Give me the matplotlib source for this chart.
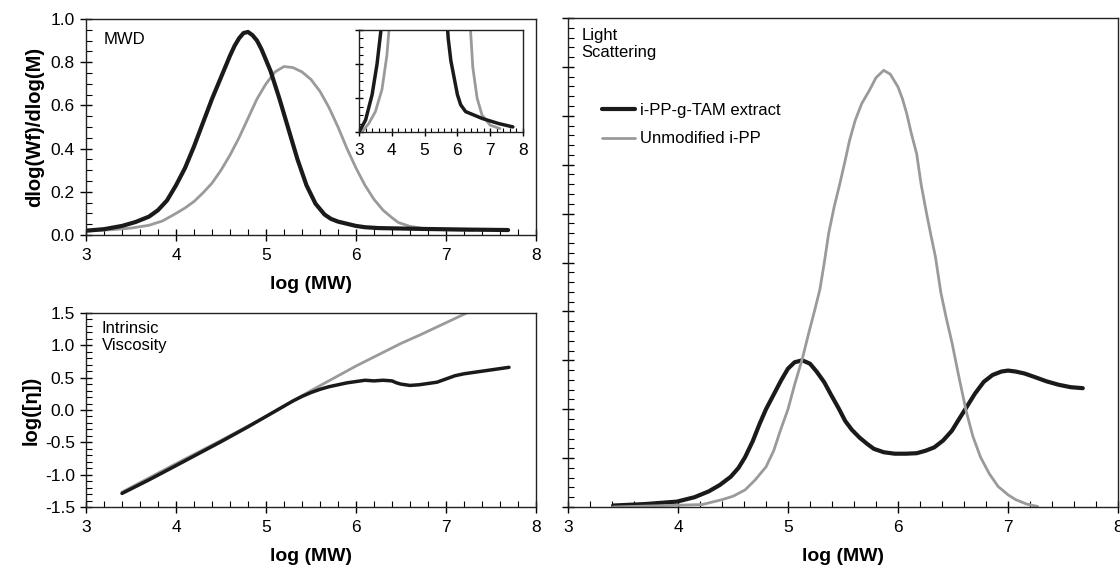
import numpy as np
import matplotlib.pyplot as plt
from matplotlib.ticker import MultipleLocator

plt.rcParams['font.family'] = ['Liberation Sans', 'DejaVu Sans']

BLACK = "#1a1a1a"
GRAY = "#9a9a9a"

# MWD, dlog(Wf)/dlog(M) vs log(MW)
mwd_tam_x = [3.0, 3.2, 3.4, 3.55, 3.7, 3.8, 3.9, 4.0, 4.1, 4.2, 4.3, 4.4, 4.5, 4.6,
             4.65, 4.7, 4.75, 4.8, 4.85, 4.9, 4.95, 5.05, 5.15, 5.25, 5.35, 5.45,
             5.55, 5.65, 5.72, 5.8, 5.9, 6.0, 6.1, 6.25, 6.5, 6.75, 7.25, 7.69]
mwd_tam_y = [0.020, 0.027, 0.042, 0.06, 0.085, 0.115, 0.16, 0.23, 0.31, 0.41, 0.52,
             0.63, 0.73, 0.83, 0.875, 0.91, 0.935, 0.94, 0.925, 0.90, 0.86, 0.76,
             0.63, 0.49, 0.35, 0.23, 0.145, 0.095, 0.075, 0.062, 0.052, 0.042, 0.036,
             0.032, 0.030, 0.028, 0.025, 0.023]
mwd_pp_x = [3.0, 3.3, 3.5, 3.7, 3.85, 4.0, 4.1, 4.2, 4.3, 4.4, 4.5, 4.6, 4.7, 4.8,
            4.9, 5.0, 5.1, 5.2, 5.3, 5.4, 5.5, 5.6, 5.7, 5.8, 5.9, 6.0, 6.1, 6.2,
            6.3, 6.4, 6.47, 6.6, 6.75, 7.0, 7.3]
mwd_pp_y = [0.018, 0.025, 0.032, 0.045, 0.065, 0.10, 0.125, 0.155, 0.195, 0.24,
            0.30, 0.37, 0.45, 0.54, 0.63, 0.70, 0.755, 0.78, 0.775, 0.755, 0.72,
            0.665, 0.59, 0.50, 0.40, 0.31, 0.23, 0.165, 0.115, 0.08, 0.058, 0.04,
            0.03, 0.024, 0.022]

# intrinsic viscosity, log([eta]) vs log(MW)
iv_tam_x = [3.4, 3.7, 4.0, 4.5, 4.8, 5.0, 5.2, 5.3, 5.4, 5.5, 5.6, 5.7, 5.8, 5.9,
            6.0, 6.1, 6.2, 6.3, 6.4, 6.45, 6.5, 6.6, 6.7, 6.8, 6.9, 7.0, 7.1, 7.2,
            7.3, 7.45, 7.6, 7.7]
iv_tam_y = [-1.29, -1.08, -0.86, -0.49, -0.26, -0.10, 0.06, 0.14, 0.21, 0.27, 0.32,
            0.36, 0.39, 0.42, 0.44, 0.46, 0.45, 0.46, 0.45, 0.42, 0.40, 0.38, 0.39,
            0.41, 0.43, 0.48, 0.53, 0.56, 0.58, 0.61, 0.64, 0.66]
iv_pp_x = [3.4, 4.0, 4.5, 5.0, 5.5, 6.0, 6.5, 6.71, 7.23]
iv_pp_y = [-1.27, -0.83, -0.47, -0.10, 0.30, 0.68, 1.03, 1.16, 1.50]

# light scattering signal (arbitrary units)
ls_tam_x = [3.41, 3.7, 3.99, 4.15, 4.28, 4.38, 4.48, 4.55, 4.61, 4.68, 4.74, 4.8,
            4.87, 4.94, 5.0, 5.06, 5.13, 5.2, 5.26, 5.33, 5.39, 5.46, 5.52, 5.58,
            5.65, 5.72, 5.78, 5.87, 5.97, 6.07, 6.17, 6.25, 6.33, 6.41, 6.49, 6.55,
            6.62, 6.7, 6.78, 6.86, 6.94, 7.0, 7.07, 7.15, 7.24, 7.35, 7.46, 7.57, 7.68]
ls_tam_y = [0.03, 0.06, 0.11, 0.2, 0.32, 0.45, 0.62, 0.8, 1.02, 1.35, 1.69, 2.0,
            2.3, 2.6, 2.83, 2.96, 3.0, 2.93, 2.77, 2.55, 2.3, 2.02, 1.76, 1.58,
            1.42, 1.29, 1.19, 1.12, 1.09, 1.09, 1.1, 1.15, 1.22, 1.36, 1.56, 1.78,
            2.03, 2.32, 2.56, 2.7, 2.77, 2.79, 2.77, 2.73, 2.66, 2.57, 2.5, 2.45, 2.43]
ls_pp_x = [3.41, 4.22, 4.4, 4.5, 4.61, 4.7, 4.8, 4.87, 4.93, 5.0, 5.06, 5.13, 5.19,
           5.24, 5.29, 5.33, 5.37, 5.42, 5.47, 5.52, 5.56, 5.61, 5.67, 5.74, 5.8,
           5.87, 5.93, 6.0, 6.04, 6.08, 6.12, 6.17, 6.21, 6.26, 6.3, 6.34, 6.39,
           6.44, 6.49, 6.55, 6.62, 6.68, 6.75, 6.83, 6.91, 7.0, 7.07, 7.17, 7.27]
ls_pp_y = [0.0, 0.05, 0.15, 0.22, 0.35, 0.55, 0.82, 1.15, 1.56, 2.0, 2.5, 3.03,
           3.57, 4.0, 4.45, 5.0, 5.6, 6.14, 6.6, 7.09, 7.5, 7.9, 8.25, 8.52, 8.78,
           8.93, 8.85, 8.59, 8.35, 8.04, 7.65, 7.22, 6.6, 6.0, 5.55, 5.12, 4.38,
           3.85, 3.37, 2.7, 1.96, 1.45, 1.02, 0.68, 0.42, 0.25, 0.15, 0.06, 0.01]


def style_axis(ax, xminor, ymajor, yminor, labelsize=12.5):
    ax.xaxis.set_major_locator(MultipleLocator(1))
    ax.xaxis.set_minor_locator(MultipleLocator(xminor))
    ax.yaxis.set_major_locator(MultipleLocator(ymajor))
    ax.yaxis.set_minor_locator(MultipleLocator(yminor))
    ax.tick_params(which="major", direction="inout", length=9, width=1,
                   labelsize=labelsize, top=False, right=False)
    ax.tick_params(axis="x", which="major", pad=5)
    ax.tick_params(which="minor", direction="in", length=4.5, width=0.8,
                   top=False, right=False)
    for sp in ax.spines.values():
        sp.set_linewidth(1)
        sp.set_color("#222222")


def curve(ax, x, y, color, lw, label=None):
    ax.plot(x, y, color=color, lw=lw, label=label,
            solid_joinstyle="round", solid_capstyle="round")


fig = plt.figure(figsize=(11.2, 5.7), dpi=100)
W, H = 1120, 570

# MWD panel
ax1 = fig.add_axes([86 / W, 1 - 235 / H, 450 / W, 216 / H])
curve(ax1, mwd_pp_x, mwd_pp_y, GRAY, 2)
curve(ax1, mwd_tam_x, mwd_tam_y, BLACK, 3)
ax1.set_xlim(3, 8)
ax1.set_ylim(0, 1.0)
style_axis(ax1, 0.2, 0.2, 0.05)
ax1.yaxis.set_major_formatter(plt.FormatStrFormatter("%.1f"))
ax1.set_xlabel("log (MW)", fontsize=14, fontweight="bold", labelpad=9)
ax1.set_ylabel("dlog(Wf)/dlog(M)", fontsize=14.5, fontweight="bold", labelpad=5)
ax1.text(0.04, 0.94, "MWD", transform=ax1.transAxes, fontsize=12, va="top")

# inset, tails of the MWD
axi = fig.add_axes([359 / W, 1 - 132 / H, 164 / W, 102 / H])
curve(axi, mwd_pp_x, mwd_pp_y, GRAY, 2)
curve(axi, mwd_tam_x, mwd_tam_y, BLACK, 2.5)
axi.set_xlim(3, 8)
axi.set_ylim(0.02, 0.08)
style_axis(axi, 0.2, 0.02, 0.005)
axi.tick_params(which="major", length=6)
axi.tick_params(which="minor", length=3)
axi.tick_params(axis="y", labelleft=False)

# intrinsic viscosity panel
ax2 = fig.add_axes([86 / W, 1 - 507 / H, 450 / W, 194 / H])
curve(ax2, iv_pp_x, iv_pp_y, GRAY, 2)
curve(ax2, iv_tam_x, iv_tam_y, BLACK, 2.5)
ax2.set_xlim(3, 8)
ax2.set_ylim(-1.5, 1.5)
style_axis(ax2, 0.2, 0.5, 0.1)
ax2.yaxis.set_major_formatter(plt.FormatStrFormatter("%.1f"))
ax2.set_xlabel("log (MW)", fontsize=14, fontweight="bold", labelpad=9)
ax2.set_ylabel("log([\u03b7])", fontsize=14.5, fontweight="bold", labelpad=3)
ax2.text(0.035, 0.96, "Intrinsic\nViscosity", transform=ax2.transAxes,
         fontsize=12, va="top", linespacing=1.2)

# light scattering panel
ax3 = fig.add_axes([568 / W, 1 - 507 / H, 550 / W, 489 / H])
curve(ax3, ls_tam_x, ls_tam_y, BLACK, 3, label="i-PP-g-TAM extract")
curve(ax3, ls_pp_x, ls_pp_y, GRAY, 2, label="Unmodified i-PP")
ax3.set_xlim(3, 8)
ax3.set_ylim(0, 10)
style_axis(ax3, 0.2, 1, 0.2)
ax3.tick_params(axis="y", labelleft=False)
ax3.set_xlabel("log (MW)", fontsize=14, fontweight="bold", labelpad=9)
ax3.text(0.025, 0.98, "Light\nScattering", transform=ax3.transAxes,
         fontsize=12, va="top", linespacing=1.2)
ax3.legend(loc="upper left", bbox_to_anchor=(0.04, 0.85), frameon=False,
           fontsize=12, handlelength=2.0, handletextpad=0.3, labelspacing=0.8,
           borderpad=0.2)

fig.savefig("out.png", dpi=100)
